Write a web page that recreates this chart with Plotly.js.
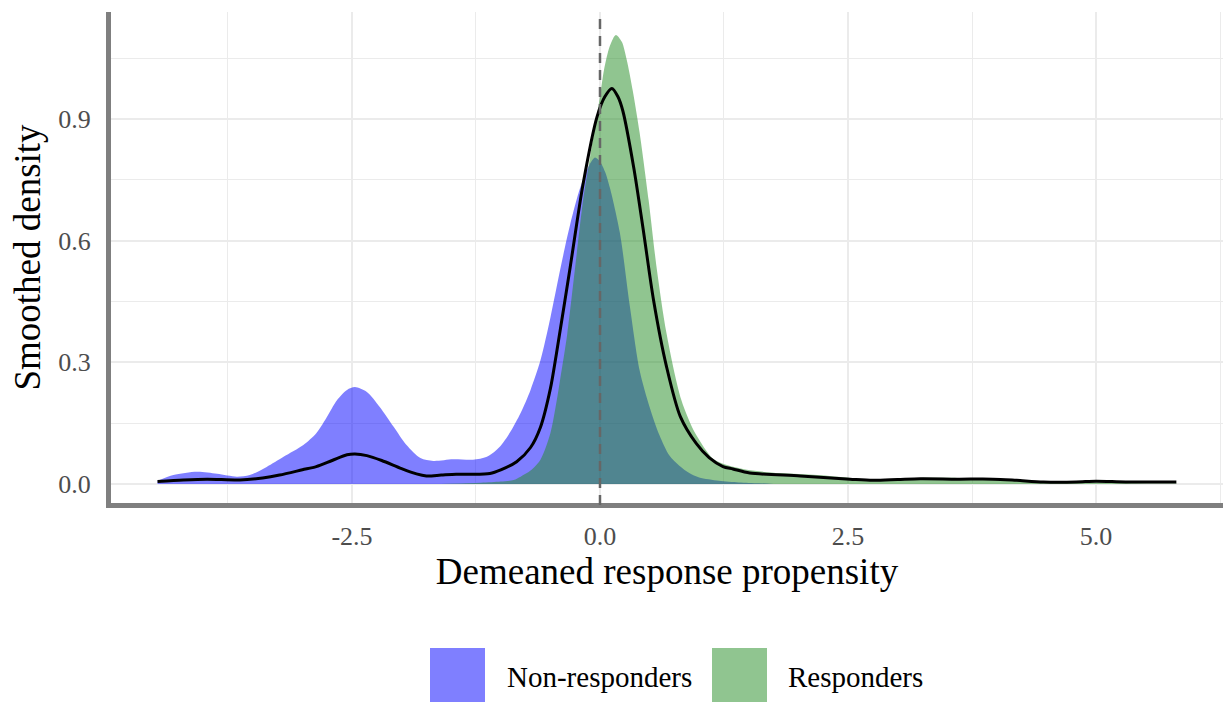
<!DOCTYPE html>
<html>
<head>
<meta charset="utf-8">
<script src="https://cdn.plot.ly/plotly-3.0.1.min.js"></script>
<style>html,body{margin:0;padding:0;background:#fff;}#chart{width:1223px;height:705px;}</style>
</head>
<body>
<div id="chart"></div>
<script>
// Non-responders density (blue)
const nonRespX = [-4.46,-4.3,-4.06,-3.86,-3.66,-3.53,-3.36,-3.19,-2.99,-2.86,-2.76,-2.65,-2.55,-2.47,-2.35,-2.22,-2.08,-1.95,-1.81,-1.68,-1.48,-1.28,-1.14,-1.01,-0.9,-0.8,-0.7,-0.6,-0.5,-0.4,-0.3,-0.2,-0.1,-0.05,0.0,0.05,0.1,0.2,0.3,0.4,0.5,0.6,0.7,0.8,0.9,1.0,1.2,1.4,1.6,1.75];
const nonRespY = [0.008,0.022,0.030,0.025,0.018,0.022,0.042,0.067,0.096,0.125,0.162,0.207,0.232,0.239,0.227,0.190,0.141,0.096,0.064,0.057,0.061,0.060,0.067,0.092,0.130,0.175,0.232,0.305,0.410,0.530,0.640,0.730,0.790,0.805,0.795,0.770,0.730,0.620,0.440,0.280,0.190,0.120,0.070,0.045,0.027,0.016,0.008,0.004,0.002,0.0];

// Responders density (green)
const respX = [-1.6,-1.2,-1.0,-0.87,-0.8,-0.7,-0.6,-0.5,-0.44,-0.4,-0.33,-0.25,-0.17,-0.1,0.0,0.04,0.1,0.16,0.22,0.27,0.33,0.4,0.49,0.57,0.67,0.82,0.96,1.14,1.24,1.48,1.81,2.19,2.52,2.77,3.0,3.23,3.6,3.96,4.2,4.37,4.7,5.0,5.4,5.81];
const respY = [0.0,0.003,0.006,0.010,0.018,0.033,0.060,0.125,0.200,0.260,0.370,0.535,0.700,0.806,0.955,1.020,1.080,1.107,1.090,1.045,0.970,0.865,0.700,0.535,0.372,0.207,0.125,0.062,0.050,0.035,0.027,0.022,0.015,0.010,0.012,0.015,0.015,0.014,0.009,0.005,0.003,0.004,0.002,0.001];

// Overall density (black line)
const allX = [-4.46,-4.2,-3.96,-3.63,-3.4,-3.23,-3.0,-2.86,-2.7,-2.55,-2.47,-2.35,-2.2,-2.0,-1.85,-1.75,-1.6,-1.45,-1.3,-1.11,-1.0,-0.84,-0.7,-0.6,-0.5,-0.44,-0.3,-0.17,-0.03,0.05,0.12,0.18,0.23,0.34,0.44,0.54,0.67,0.81,0.97,1.1,1.24,1.34,1.51,2.02,2.52,2.75,3.0,3.23,3.6,3.96,4.2,4.47,4.8,5.0,5.3,5.81];
const allY = [0.006,0.010,0.012,0.010,0.015,0.022,0.035,0.043,0.058,0.072,0.074,0.070,0.058,0.038,0.025,0.020,0.022,0.024,0.024,0.026,0.035,0.055,0.090,0.140,0.235,0.320,0.535,0.740,0.905,0.955,0.975,0.955,0.920,0.780,0.620,0.453,0.290,0.166,0.100,0.065,0.043,0.037,0.027,0.020,0.012,0.009,0.011,0.013,0.012,0.012,0.009,0.005,0.005,0.007,0.005,0.005];

const xTickVals = [-2.5, 0.0, 2.5, 5.0];
const xTickText = ["-2.5", "0.0", "2.5", "5.0"];
const yTickVals = [0.0, 0.3, 0.6, 0.9];
const yTickText = ["0.0", "0.3", "0.6", "0.9"];
const refLineX = 0;
const legendLabels = ["Non-responders", "Responders"];
const fillColors = ["rgba(0,0,255,0.5)", "rgba(34,139,34,0.5)"];

const FONT = "Liberation Serif, Times New Roman, serif";

const traces = [
  {x: nonRespX, y: nonRespY, type: "scatter", mode: "lines", fill: "tozeroy",
   fillcolor: fillColors[0], line: {width: 0, shape: "spline", smoothing: 0.8, color: fillColors[0]},
   name: legendLabels[0], showlegend: false, hoverinfo: "skip"},
  {x: respX, y: respY, type: "scatter", mode: "lines", fill: "tozeroy",
   fillcolor: fillColors[1], line: {width: 0, shape: "spline", smoothing: 0.8, color: fillColors[1]},
   name: legendLabels[1], showlegend: false, hoverinfo: "skip"},
  {x: allX, y: allY, type: "scatter", mode: "lines",
   line: {width: 3, color: "#000", shape: "spline", smoothing: 0.8},
   name: "All", showlegend: false, hoverinfo: "skip"}
];

const plotL = 111, plotR = 1223, plotT = 12, plotB = 503;
const pw = plotR - plotL, ph = plotB - plotT;
function px(xp){ return (xp - plotL) / pw; }
function py(yp){ return (plotB - yp) / ph; }

const layout = {
  width: 1223, height: 705,
  margin: {l: plotL, r: 1223 - plotR, t: plotT, b: 705 - plotB, pad: 0},
  paper_bgcolor: "#fff", plot_bgcolor: "#fff",
  font: {family: FONT, color: "#000"},
  showlegend: false,
  xaxis: {
    range: [-4.929, 6.280], autorange: false,
    tickmode: "array", tickvals: xTickVals, ticktext: xTickText,
    showgrid: true, gridcolor: "#ebebeb", gridwidth: 2,
    minor: {tickmode: "linear", tick0: -1.25, dtick: 2.5, showgrid: true, gridcolor: "#ebebeb", gridwidth: 1},
    zeroline: false, showline: true, linecolor: "#7f7f7f", linewidth: 5,
    ticks: "", ticklabelstandoff: 6,
    tickfont: {family: FONT, size: 26, color: "#4d4d4d"},
    title: {text: "Demeaned response propensity", font: {family: FONT, size: 37, color: "#000"}, standoff: 8}
  },
  yaxis: {
    range: [-0.0468, 1.1634], autorange: false,
    tickmode: "array", tickvals: yTickVals, ticktext: yTickText,
    showgrid: true, gridcolor: "#ebebeb", gridwidth: 2,
    minor: {tickmode: "linear", tick0: 0.15, dtick: 0.3, showgrid: true, gridcolor: "#ebebeb", gridwidth: 1},
    zeroline: false, showline: true, linecolor: "#7f7f7f", linewidth: 5,
    ticks: "", ticklabelstandoff: 10,
    tickfont: {family: FONT, size: 26, color: "#4d4d4d"},
    title: {text: "Smoothed density", font: {family: FONT, size: 37, color: "#000"}, standoff: 8}
  },
  shapes: [
    {type: "line", xref: "x", yref: "paper", x0: refLineX, x1: refLineX, y0: -0.004, y1: 1,
     line: {color: "#666666", width: 2.5, dash: "10px,7px"}, layer: "above"},
    {type: "rect", xref: "paper", yref: "paper", x0: px(430), x1: px(485), y0: py(702), y1: py(648),
     fillcolor: fillColors[0], line: {width: 0}},
    {type: "rect", xref: "paper", yref: "paper", x0: px(712), x1: px(767), y0: py(702), y1: py(648),
     fillcolor: fillColors[1], line: {width: 0}}
  ],
  annotations: [
    {xref: "paper", yref: "paper", x: px(505), y: py(677), xanchor: "left", yanchor: "middle",
     text: legendLabels[0], showarrow: false, font: {family: FONT, size: 29, color: "#000"}},
    {xref: "paper", yref: "paper", x: px(786), y: py(677), xanchor: "left", yanchor: "middle",
     text: legendLabels[1], showarrow: false, font: {family: FONT, size: 29, color: "#000"}}
  ]
};

Plotly.newPlot("chart", traces, layout, {displayModeBar: false, staticPlot: true});
</script>
</body>
</html>
